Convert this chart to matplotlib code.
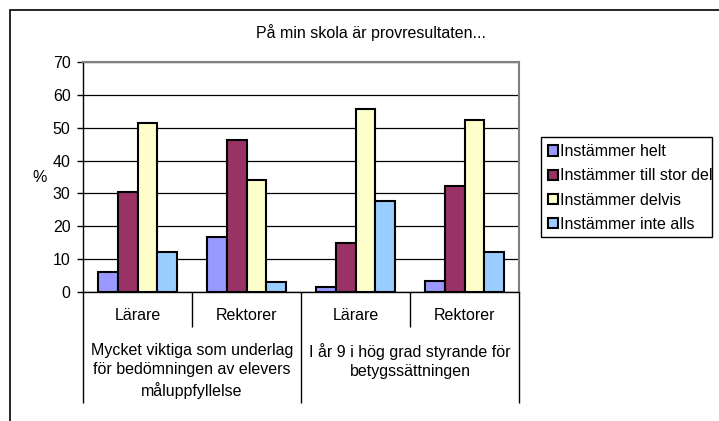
import matplotlib.pyplot as plt
import numpy as np
from matplotlib.patches import Rectangle

plt.rcParams['font.family'] = ['Liberation Sans', 'DejaVu Sans']

groups = ['Lärare', 'Rektorer', 'Lärare', 'Rektorer']
outer = ['Mycket viktiga som underlag\nför bedömningen av elevers\nmåluppfyllelse',
         'I år 9 i hög grad styrande för\nbetygssättningen']
series = ['Instämmer helt', 'Instämmer till stor del', 'Instämmer delvis', 'Instämmer inte alls']
helt = [6.2, 16.8, 1.5, 3.5]
stor_del = [30.5, 46.2, 15.0, 32.2]
delvis = [51.3, 34.0, 55.6, 52.4]
inte_alls = [12.1, 3.0, 27.8, 12.1]
values = [helt, stor_del, delvis, inte_alls]
colors = ['#9999FF', '#993366', '#FFFFCC', '#99CCFF']

fs = 11.5

fig = plt.figure(figsize=(7.19, 4.21), dpi=100)
ax = fig.add_axes([83/719, 1 - 292/421, 436/719, 230/421])

# outer chart frame (runs off the bottom/right of the picture)
fig.patches.append(Rectangle((10/719, -0.1), 1.2, 1 - 10/421 + 0.1, transform=fig.transFigure,
                             fill=False, edgecolor='black', linewidth=1.2))
# legend box, drawn by hand so the long label can poke over its edge like in Excel
fig.patches.append(Rectangle((541/719, 1 - 237/421), 171/719, 100/421, transform=fig.transFigure,
                             fill=False, edgecolor='black', linewidth=1))

x = np.arange(len(groups))
w = 0.183
for i, (vals, c) in enumerate(zip(values, colors)):
    ax.bar(x + (i - 1.5) * w, vals, w, color=c, edgecolor='black', linewidth=1.5,
           label=series[i], zorder=3)

ax.set_xlim(-0.5, 3.5)
ax.set_ylim(0, 70)
ax.set_yticks(range(0, 71, 10))
ax.tick_params(axis='y', labelsize=fs, length=4, width=1, pad=5)
ax.grid(axis='y', color='black', linewidth=0.9, zorder=0)
ax.set_ylabel('%', rotation=0, fontsize=fs, va='center', ha='center')
ax.yaxis.set_label_coords(-43/436, 0.5)

for s in ['top', 'right']:
    ax.spines[s].set_color('#808080')
    ax.spines[s].set_linewidth(1.5)
ax.spines['left'].set_linewidth(1)
ax.spines['bottom'].set_linewidth(1)

# two-level category axis
ax.set_xticks([-0.5, 1.5, 3.5])
ax.set_xticks([0.5, 2.5], minor=True)
ax.tick_params(axis='x', which='major', length=80, width=1, labelbottom=False)
ax.tick_params(axis='x', which='minor', length=25, width=1, labelbottom=False)

for xi, g in zip(x, groups):
    ax.annotate(g, xy=(xi, 0), xycoords=('data', 'axes fraction'), xytext=(0, -23),
                textcoords='offset pixels', ha='center', va='center', fontsize=fs)
for k, lab in enumerate(outer):
    ax.annotate(lab, xy=(0.5 + 2 * k, 0), xycoords=('data', 'axes fraction'), xytext=(0, -51),
                textcoords='offset pixels', ha='center', va='top', fontsize=fs,
                linespacing=1.33)

fig.text(371/719, 1 - 33/421, 'På min skola är provresultaten...', ha='center', va='center',
         fontsize=fs)

leg = ax.legend(loc='upper left', bbox_to_anchor=(541/719, 1 - 137/421), bbox_transform=fig.transFigure,
                fontsize=fs, frameon=False, handlelength=0.6, handleheight=0.6,
                handletextpad=0.15, labelspacing=0.58, borderpad=0.45, borderaxespad=0)

fig.savefig('out.png', dpi=100)
